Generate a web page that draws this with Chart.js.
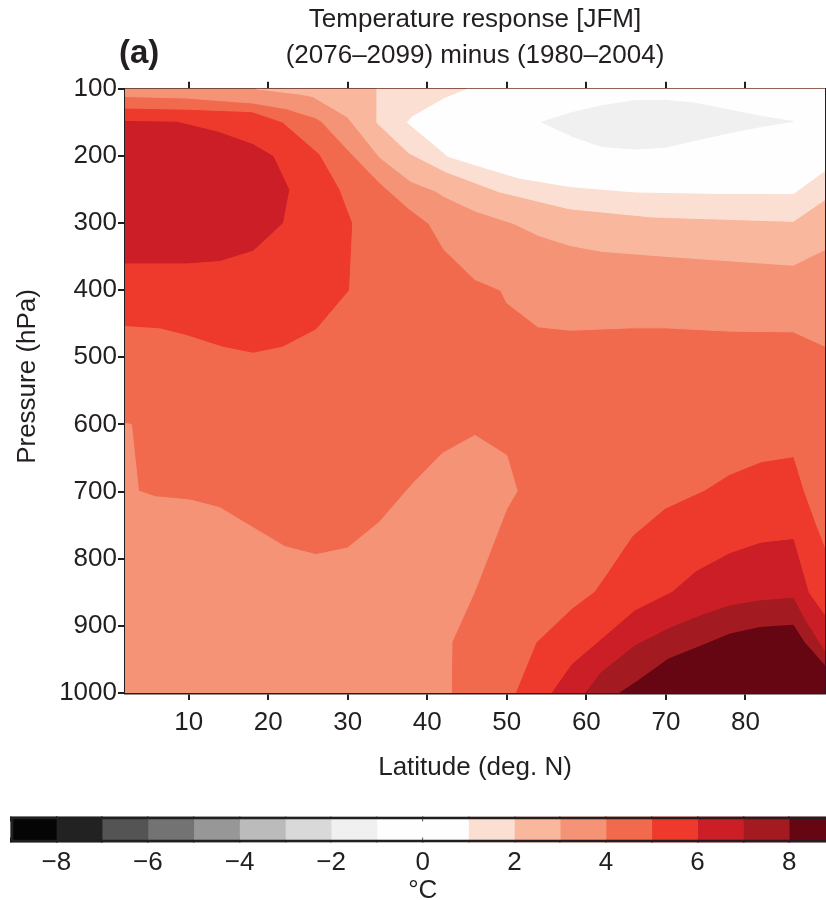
<!DOCTYPE html>
<html lang="en">
<head>
<meta charset="UTF-8">
<title>Temperature response [JFM]</title>
<style>
  html, body { margin: 0; padding: 0; background: #fff; overflow: hidden; }
  #wrap { position: relative; width: 826px; height: 900px; overflow: hidden; }
  #mainBox { position: absolute; left: 0; top: 0; }
  #barBox { position: absolute; left: 0; top: 800px; }
  #panel { position: absolute; left: 119px; top: 35px; font: bold 33px "Liberation Sans", Arial, sans-serif; color: #231f20; line-height: 33px; }
</style>
</head>
<body>
<div id="wrap">
  <div id="mainBox"><canvas id="contourChart" width="826" height="800"></canvas></div>
  <div id="barBox"><canvas id="colorBar" width="850" height="104"></canvas></div>
  <div id="panel">(a)</div>
</div>
<script src="https://cdn.jsdelivr.net/npm/chart.js@4"></script>
<script>
// axis ticks / titles
const titleLines = ['Temperature response [JFM]', '(2076\u20132099) minus (1980\u20132004)'];
const latTicks = [10, 20, 30, 40, 50, 60, 70, 80];
const pressureTicks = [100, 200, 300, 400, 500, 600, 700, 800, 900, 1000];

// colour scale: one colour per 1 degC band from -9 to 9
const levelBounds = [-9, -8, -7, -6, -5, -4, -3, -2, -1, 0, 1, 2, 3, 4, 5, 6, 7, 8, 9];
const levelColors = ['#050505', '#222222', '#545454', '#737373', '#979797', '#bbbbbb', '#d9d9d9', '#f0f0f0',
  '#fefefe', '#fefefe', '#fcdfd3', '#f9b89e', '#f59377', '#f26a4d', '#ee3a2c', '#cb1e27', '#a31b20', '#650612'];

// contour polygons, [latitude, pressure]
const plotFrame = [[2, 100], [90, 100], [90, 1000], [2, 1000]];
const upperBelow4 = [[2, 111.5], [9.7, 113.8], [18.1, 121.3], [22.3, 129.8], [26.0, 143.6], [26.7, 148.7], [30.2, 193.3],
  [34.0, 239.9], [37.7, 278.6], [40.2, 300.9], [42.1, 339.6], [46.0, 384.2], [49.2, 400.1], [50.0, 418.9], [53.9, 454.6],
  [58.0, 459.6], [65.7, 456.1], [69.9, 456.1], [78.2, 461.1], [86.0, 462.0], [90, 483.5], [90, 100], [2, 100]];
const upperBelow3 = [[18.5, 100], [23.9, 107.9], [25.6, 111.5], [30.0, 142.4], [34.0, 201.9], [37.9, 237.9], [41.1, 252.8],
  [42.1, 260.3], [46.1, 282.6], [50.9, 300.9], [54.0, 318.7], [58.0, 333.6], [61.9, 342.1], [69.9, 349.5], [86.0, 362.9],
  [90, 339.6], [90, 100]];
const upperBelow2 = [[33.8, 100], [33.7, 151.0], [37.7, 195.7], [42.3, 223.5], [49.0, 253.3], [57.8, 278.6], [68.2, 290.9],
  [86.0, 297.5], [90, 265.2], [90, 100]];
const upperBelow1 = [[45.2, 100], [42.1, 114.9], [38.1, 142.1], [37.5, 150.1], [42.6, 200.7], [47.3, 218.0], [51.5, 232.9],
  [57.8, 245.4], [66.1, 253.7], [76.2, 255.8], [86.0, 256.2], [90, 222.0], [90, 100]];
const belowMinus1 = [[54.3, 150.1], [58.0, 136.2], [61.9, 125.3], [66.1, 117.9], [69.9, 117.4], [73.6, 121.3], [78.2, 132.3],
  [82.0, 141.2], [86.0, 148.7], [82.0, 156.1], [78.2, 165.0], [73.6, 176.9], [69.9, 187.3], [66.1, 189.7], [61.9, 185.9],
  [58.0, 169.9]];
const lowerBelow4 = [[2, 598.5], [2.8, 600.0], [3.7, 699.2], [5.8, 707.6], [10.2, 712.6], [13.9, 723.9], [18.1, 753.7],
  [22.1, 782.0], [26.0, 793.9], [30.0, 784.0], [34.0, 745.3], [38.1, 689.2], [41.9, 643.1], [46.0, 616.3], [50.0, 646.1],
  [51.3, 699.2], [50.0, 725.4], [45.9, 850.4], [43.1, 923.9], [43.0, 1000], [2, 1000]];
const tropicsAbove5 = [[2, 130.2], [9.7, 132.0], [18.0, 135.7], [21.8, 151.0], [26.4, 198.2], [28.9, 250.3], [30.0, 284.9],
  [30.5, 299.8], [30.1, 400.1], [26.0, 457.6], [21.8, 483.5], [18.1, 492.4], [14.3, 483.5], [9.7, 466.0], [6.4, 456.1],
  [2, 452.7]];
const tropicsAbove6 = [[2, 148.7], [8.5, 149.8], [13.7, 164.7], [18.1, 183.3], [20.6, 200.7], [21.8, 230.5], [22.6, 250.3],
  [21.8, 299.8], [18.1, 340.6], [13.9, 355.9], [9.7, 359.4], [2, 359.4]];
const arcticAbove5 = [[51.2, 1000], [53.8, 924.8], [58.2, 875.3], [61.1, 849.5], [62.8, 820.6], [65.9, 766.2], [69.9, 726.4],
  [74.9, 699.2], [78.0, 675.9], [82.0, 657.0], [86.0, 649.5], [87.2, 696.7], [88.7, 746.2], [90, 786.0], [90, 1000]];
const arcticAbove6 = [[55.7, 1000], [58.2, 957.8], [62.2, 917.4], [66.1, 877.8], [70.8, 850.0], [73.8, 819.5], [78.0, 792.7],
  [81.9, 777.0], [86.0, 771.5], [87.9, 850.4], [90, 885.2], [90, 1000]];
const arcticAbove7 = [[59.9, 1000], [61.9, 969.4], [66.1, 929.9], [70.7, 902.5], [74.9, 882.7], [78.0, 870.3], [81.8, 862.9],
  [86.0, 858.9], [87.4, 890.1], [90, 939.7], [90, 1000]];
const arcticAbove8 = [[64.2, 1000], [66.5, 981.9], [70.3, 949.6], [75.3, 925.8], [78.0, 912.4], [81.8, 902.5], [86.0, 899.1],
  [87.4, 924.8], [90, 959.6], [90, 1000]];

const ink = '#231f20';
const family = '"Liberation Sans", Arial, Helvetica, sans-serif';

// painted bottom to top, level = index into levelColors
const layers = [
  { pts: plotFrame, level: 13 },
  { pts: upperBelow4, level: 12 },
  { pts: upperBelow3, level: 11 },
  { pts: upperBelow2, level: 10 },
  { pts: upperBelow1, level: 9 },
  { pts: belowMinus1, level: 7 },
  { pts: lowerBelow4, level: 12 },
  { pts: tropicsAbove5, level: 14 },
  { pts: tropicsAbove6, level: 15 },
  { pts: arcticAbove5, level: 14 },
  { pts: arcticAbove6, level: 15 },
  { pts: arcticAbove7, level: 16 },
  { pts: arcticAbove8, level: 17 }
];

const contourSets = layers.map((l, i) => ({
  data: l.pts.map(([x, y]) => ({ x: x, y: y })),
  showLine: true,
  fill: 'shape',
  backgroundColor: levelColors[l.level],
  borderColor: levelColors[l.level],
  borderWidth: 1,
  pointRadius: 0,
  pointHoverRadius: 0,
  tension: 0,
  order: layers.length - i
}));

const tickFont = { family: family, size: 26, lineHeight: 1.2 };
const tickGrid = { drawOnChartArea: false, drawTicks: true, tickLength: 7, color: ink, lineWidth: 2 };
const frameBorder = { display: true, color: ink, width: 2.5 };

new Chart(document.getElementById('contourChart'), {
  type: 'scatter',
  data: { datasets: contourSets },
  options: {
    responsive: false,
    animation: false,
    events: [],
    layout: { padding: { top: 2, left: 0, right: 0, bottom: 7 } },
    plugins: {
      legend: { display: false },
      tooltip: { enabled: false },
      title: {
        display: true,
        fullSize: false,
        text: titleLines,
        color: ink,
        font: { family: family, size: 26, weight: 'normal', lineHeight: 1.38 },
        padding: { top: 0, bottom: 8 }
      }
    },
    scales: {
      x: {
        type: 'linear', position: 'bottom', min: 2, max: 90, z: 1,
        afterBuildTicks: s => { s.ticks = latTicks.map(v => ({ value: v })); },
        afterFit: s => { s.height = 100; },
        ticks: { color: ink, font: tickFont, padding: 7, maxRotation: 0, callback: v => String(v) },
        grid: tickGrid,
        border: frameBorder,
        title: { display: true, text: 'Latitude (deg. N)', color: ink, font: tickFont, padding: { top: 0, bottom: 10 } }
      },
      xTop: {
        type: 'linear', position: 'top', min: 2, max: 90, z: 1,
        afterBuildTicks: s => { s.ticks = latTicks.map(v => ({ value: v })); },
        ticks: { display: false },
        grid: tickGrid,
        border: frameBorder
      },
      y: {
        type: 'linear', position: 'left', reverse: true, min: 100, max: 1000, z: 1,
        afterBuildTicks: s => { s.ticks = pressureTicks.map(v => ({ value: v })); },
        afterFit: s => { s.width = 125; },
        ticks: { color: ink, font: tickFont, padding: 1, callback: v => String(v) },
        grid: tickGrid,
        border: frameBorder,
        // leading spaces lift the label a little above the axis centre, as in the original
        title: { display: true, text: '    Pressure (hPa)', color: ink, font: tickFont, padding: { top: 12, bottom: 0 } }
      },
      yRight: {
        type: 'linear', position: 'right', reverse: true, min: 100, max: 1000, z: 1,
        afterFit: s => { s.width = 1; },
        ticks: { display: false },
        grid: { drawOnChartArea: false, drawTicks: false },
        border: frameBorder
      }
    }
  }
});

// colour bar
const fmtLevel = v => (v < 0 ? '\u2212' + Math.abs(v) : String(v));
const barSets = [{
  data: [[levelBounds[0], levelBounds[levelBounds.length - 1]]],
  backgroundColor: 'rgba(0,0,0,0)',
  borderColor: ink,
  borderWidth: 2.5,
  borderSkipped: false
}].concat(levelColors.map((c, i) => ({
  data: [[levelBounds[i], levelBounds[i + 1]]],
  backgroundColor: c,
  borderWidth: 0
})));

new Chart(document.getElementById('colorBar'), {
  type: 'bar',
  data: { labels: ['\u00b0C'], datasets: barSets },
  options: {
    indexAxis: 'y',
    responsive: false,
    animation: false,
    events: [],
    layout: { padding: { top: 16.5, left: 10.5, right: 15, bottom: 0 } },
    datasets: { bar: { grouped: false, barPercentage: 1, categoryPercentage: 1 } },
    plugins: { legend: { display: false }, tooltip: { enabled: false } },
    scales: {
      y: { display: false },
      x: {
        type: 'linear', min: -9, max: 9, z: 1,
        afterBuildTicks: s => { s.ticks = levelBounds.map(v => ({ value: v })); },
        afterFit: s => { s.height = 61.5; },
        ticks: {
          color: ink, font: tickFont, padding: 5, autoSkip: false, maxRotation: 0,
          callback: v => (v % 2 === 0 ? fmtLevel(v) : '')
        },
        grid: { drawOnChartArea: true, drawTicks: false, color: ink, lineWidth: 1.5 },
        border: { display: false, dash: [5, 16] },
        title: { display: true, text: '\u00b0C', color: ink, font: tickFont, padding: { top: 0, bottom: -2 } }
      }
    }
  }
});
</script>
</body>
</html>
